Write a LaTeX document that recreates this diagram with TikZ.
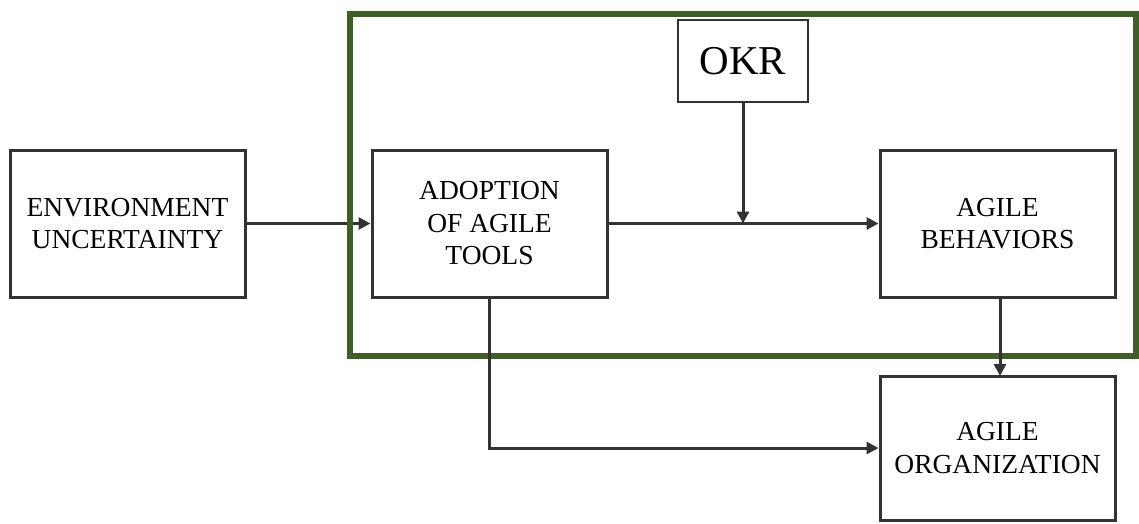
\documentclass[tikz,border=0pt]{standalone}
\usepackage{fontspec}
\setmainfont{Liberation Serif}
\usetikzlibrary{arrows.meta}
\definecolor{frame}{HTML}{3F5F27}
\definecolor{boxline}{HTML}{333333}
\tikzset{
  box/.style={draw=boxline, line width=3pt, fill=white, minimum width=235pt, minimum height=147pt, align=center, font=\fontsize{27.5}{32.5}\selectfont, inner sep=0pt},
  conn/.style={draw=boxline, line width=3pt, -{Triangle[length=12pt,width=12pt]}},
}
\begin{document}
\begin{tikzpicture}[x=1pt,y=-1pt]
\useasboundingbox (0,0) rectangle (1139,523);
\node[box] (env) at (127.5,223.5) {ENVIRONMENT\\UNCERTAINTY};
\node[box] (ado) at (489.5,223.5) {ADOPTION\\OF AGILE\\TOOLS};
\node[box] (beh) at (997.5,223.5) {AGILE\\BEHAVIORS};
\node[box, minimum height=144pt] (org) at (997.5,448) {AGILE\\ORGANIZATION};
\node[draw=boxline, line width=1.8pt, fill=white, minimum width=130pt, minimum height=82pt, inner sep=0pt, font=\fontsize{41}{44}\selectfont] (okr) at (743,61) {OKR};
\coordinate (mid) at (743,223.5);
\coordinate (behfoot) at (1000,297);
\coordinate (orgtop) at (1000,376);
\draw[conn] (env.east) -- (ado.west);
\draw[frame, line width=6pt] (350,13.5) rectangle (1136,356);
\draw[conn] (ado.east) -- (beh.west);
\draw[conn] (okr.south) -- (mid);
\draw[conn] (behfoot) -- (orgtop);
\draw[conn] (ado.south) |- (org.west);
\end{tikzpicture}
\end{document}
